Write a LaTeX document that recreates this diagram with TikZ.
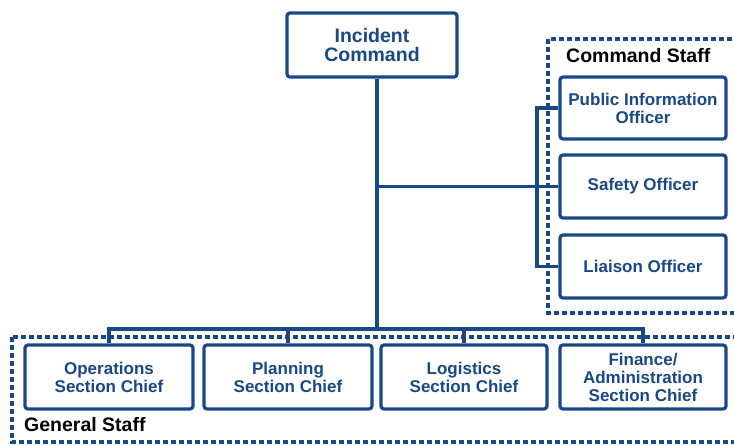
\documentclass[tikz,border=0pt]{standalone}
\usepackage{fontspec}
\setmainfont{Liberation Sans}
\definecolor{icsblue}{RGB}{24,72,136}
\tikzset{
  box/.style={draw=icsblue,line width=3.2pt,rounded corners=3pt,fill=white,
    text=icsblue,font=\bfseries\fontsize{17}{18}\selectfont,align=center,
    minimum width=166pt,minimum height=63pt,inner sep=0pt},
  link/.style={draw=icsblue,line width=3.2pt},
  staffframe/.style={draw=icsblue,line width=3.2pt,dash pattern=on 5pt off 3pt},
  stafflabel/.style={font=\bfseries\fontsize{19.5}{20}\selectfont,text=black,inner sep=0pt}
}
\begin{document}
\begin{tikzpicture}[x=1pt,y=-1pt]
\useasboundingbox (0,0) rectangle (734,445);
\clip (0,0) rectangle (734,445);

% dashed staff frames
\draw[staffframe] (548,39) rectangle (770,313);
\draw[staffframe] (12,337) rectangle (770,442);
\node[stafflabel,anchor=west] (cslabel) at (566,56) {Command Staff};
\node[stafflabel,anchor=west] (gslabel) at (24,425) {General Staff};

% boxes
\node[box,minimum width=170pt,minimum height=64pt,font=\bfseries\fontsize{19.5}{19}\selectfont] (ic) at (372,45) {Incident\\Command};

\node[box,minimum height=62pt] (pio) at (643,108) {Public Information\\Officer};
\node[box] (safety) at (643,186.5) {Safety Officer};
\node[box] (liaison) at (643,266.5) {Liaison Officer};

\node[box,minimum width=168pt,minimum height=64pt] (ops) at (109,377) {Operations\\Section Chief};
\node[box,minimum width=168pt,minimum height=64pt] (plan) at (288,377) {Planning\\Section Chief};
\node[box,minimum height=64pt] (log) at (464,377) {Logistics\\Section Chief};
\node[box,minimum height=64pt] (fin) at (643,377) {Finance/\\Administration\\Section Chief};

% connectors
\coordinate (bus) at (377,329);
\coordinate (brk) at (537,186);
\draw[link] (ic.south -| bus) -- (bus);
\draw[link] (ops.north) |- (bus) -| (fin.north);
\draw[link] (plan.north) -- (plan.north |- bus);
\draw[link] (log.north) -- (log.north |- bus);
\draw[link] (bus |- safety.west) -- (safety.west);
\draw[link] (pio.west) -| (brk |- liaison.west) -- (liaison.west);

\end{tikzpicture}
\end{document}
